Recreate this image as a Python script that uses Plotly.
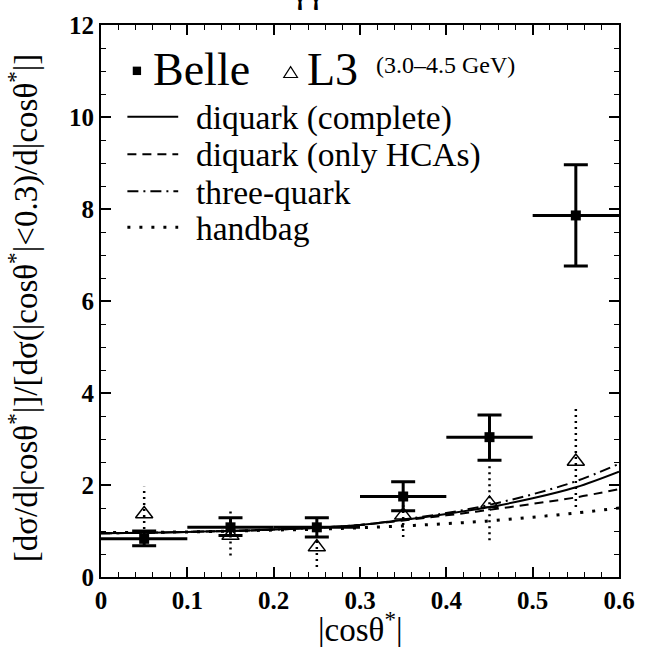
import plotly.graph_objects as go

# ---------------- data ----------------
bin_centers = [0.05, 0.15, 0.25, 0.35, 0.45, 0.55]
bin_halfwidth = [0.05, 0.05, 0.05, 0.05, 0.05, 0.05]

belle_y = [0.83, 1.08, 1.08, 1.75, 3.04, 7.86]
belle_err_up = [0.17, 0.21, 0.21, 0.32, 0.48, 1.10]
belle_err_dn = [0.15, 0.18, 0.21, 0.31, 0.50, 1.10]

l3_y = [1.37, 0.90, 0.65, 1.34, 1.60, 2.51]
l3_err_up = [0.59, 0.53, 0.43, 0.47, 0.85, 1.16]
l3_err_dn = [0.59, 0.43, 0.43, 0.47, 0.80, 0.99]

cos_grid = [0.0, 0.05, 0.1, 0.15, 0.2, 0.25, 0.3, 0.35, 0.4, 0.45, 0.5, 0.55, 0.6]
diquark_complete = [0.95, 0.96, 0.98, 1.00, 1.03, 1.07, 1.13, 1.24, 1.37, 1.52, 1.71, 1.95, 2.29]
diquark_hca = [0.95, 0.96, 0.98, 1.00, 1.03, 1.07, 1.13, 1.23, 1.34, 1.46, 1.59, 1.73, 1.91]
three_quark = [0.95, 0.96, 0.98, 1.00, 1.03, 1.07, 1.13, 1.25, 1.39, 1.57, 1.80, 2.08, 2.46]
handbag = [0.97, 0.97, 0.98, 1.00, 1.02, 1.04, 1.07, 1.11, 1.16, 1.22, 1.30, 1.39, 1.50]

x_ticks = [0, 0.1, 0.2, 0.3, 0.4, 0.5, 0.6]
x_ticklabels = ["0", "0.1", "0.2", "0.3", "0.4", "0.5", "0.6"]
y_ticks = [0, 2, 4, 6, 8, 10, 12]
y_ticklabels = ["0", "2", "4", "6", "8", "10", "12"]

# ---------------- layout geometry (pixels) ----------------
W, H = 647, 647
L, R, T, B = 101, 631, 20, 577


def px(x):
    return (x - L) / (R - L)


def py(y):
    return (B - y) / (B - T)


SERIF = "Liberation Serif"

fig = go.Figure()

curve_styles = [
    (diquark_complete, dict(color="black", width=2)),
    (diquark_hca, dict(color="black", width=2, dash="9px,6px")),
    (three_quark, dict(color="black", width=2, dash="11px,5px,2px,5px")),
    (handbag, dict(color="black", width=3, dash="3px,9px")),
]
for ys, ln in curve_styles:
    fig.add_trace(go.Scatter(x=cos_grid, y=ys, mode="lines", line=ln,
                             line_shape="spline", showlegend=False, hoverinfo="skip"))

# L3 dotted error bars
ex, ey = [], []
for xc, yc, eu, ed in zip(bin_centers, l3_y, l3_err_up, l3_err_dn):
    ex += [xc, xc, None]
    ey += [yc - ed, yc + eu, None]
fig.add_trace(go.Scatter(x=ex, y=ey, mode="lines",
                         line=dict(color="black", width=2.5, dash="2px,4px"),
                         showlegend=False, hoverinfo="skip"))
fig.add_trace(go.Scatter(x=bin_centers, y=l3_y, mode="markers",
                         marker=dict(symbol="triangle-up-open", size=15, color="black",
                                     line=dict(width=1.5, color="black")),
                         showlegend=False))

# Belle
fig.add_trace(go.Scatter(
    x=bin_centers, y=belle_y, mode="markers",
    marker=dict(symbol="square", size=10, color="black"),
    error_y=dict(type="data", symmetric=False, array=belle_err_up, arrayminus=belle_err_dn,
                 color="black", thickness=3, width=12),
    error_x=dict(type="data", array=bin_halfwidth, color="black", thickness=3, width=0),
    showlegend=False))

axis_common = dict(showline=True, linecolor="black", linewidth=2, mirror="ticks",
                   ticks="inside", ticklen=10, tickwidth=1.5, tickcolor="black",
                   showgrid=False, zeroline=False,
                   tickfont=dict(family=SERIF, size=25, color="black", weight="bold"))

fig.update_xaxes(range=[0, 0.6], tickvals=x_ticks, ticktext=x_ticklabels,
                 minor=dict(dtick=0.02, ticks="inside", ticklen=5, tickwidth=1, tickcolor="black"),
                 **axis_common)
fig.update_yaxes(range=[0, 12], tickvals=y_ticks, ticktext=y_ticklabels,
                 minor=dict(dtick=0.5, ticks="inside", ticklen=5, tickwidth=1, tickcolor="black"),
                 **axis_common)

ann = []


def text(xp, yp, s, size, xanchor="left", yanchor="middle", angle=0):
    ann.append(dict(x=px(xp), y=py(yp), xref="paper", yref="paper", text=s,
                    showarrow=False, xanchor=xanchor, yanchor=yanchor, textangle=angle,
                    font=dict(family=SERIF, size=size, color="black")))


# Title (mostly cut off at top)
text(312, 7, "γγ", 36, xanchor="center", yanchor="bottom")

# Legend header
text(152, 64.5, "Belle", 46)
text(310, 64.5, "L3", 46)
text(380, 60, "(3.0–4.5 GeV)", 24)

rows = [112.7, 150.5, 187.7, 224]
labels = ["diquark (complete)", "diquark (only HCAs)", "three-quark", "handbag"]
for yr, lab in zip(rows, labels):
    text(196, yr + 1, lab, 33.5)

shapes = []
shapes.append(dict(type="rect", xref="paper", yref="paper",
                   x0=px(133.5), x1=px(142), y0=py(70.5), y1=py(62),
                   fillcolor="black", line=dict(width=0)))
shapes.append(dict(type="path", xref="paper", yref="paper",
                   path=f"M {px(288)},{py(73)} L {px(302)},{py(73)} L {px(295)},{py(62)} Z",
                   line=dict(color="black", width=1.2)))
for yr, (_, ln) in zip(rows, curve_styles):
    shapes.append(dict(type="line", xref="paper", yref="paper",
                       x0=px(128), x1=px(180), y0=py(yr), y1=py(yr), line=ln))

# Axis titles
text(366, 627, "|cosθ<sup>*</sup>|", 33, xanchor="center")
text(22, 305, "[dσ/d|cosθ<sup>*</sup>|]/[dσ(|cosθ<sup>*</sup>|&lt;0.3)/d|cosθ<sup>*</sup>|]", 33,
     xanchor="center", angle=-90)

fig.update_layout(width=W, height=H, autosize=False,
                  margin=dict(l=L, r=W - R, t=T, b=H - B),
                  plot_bgcolor="white", paper_bgcolor="white",
                  annotations=ann, shapes=shapes, showlegend=False)

fig.write_html("out.html")
